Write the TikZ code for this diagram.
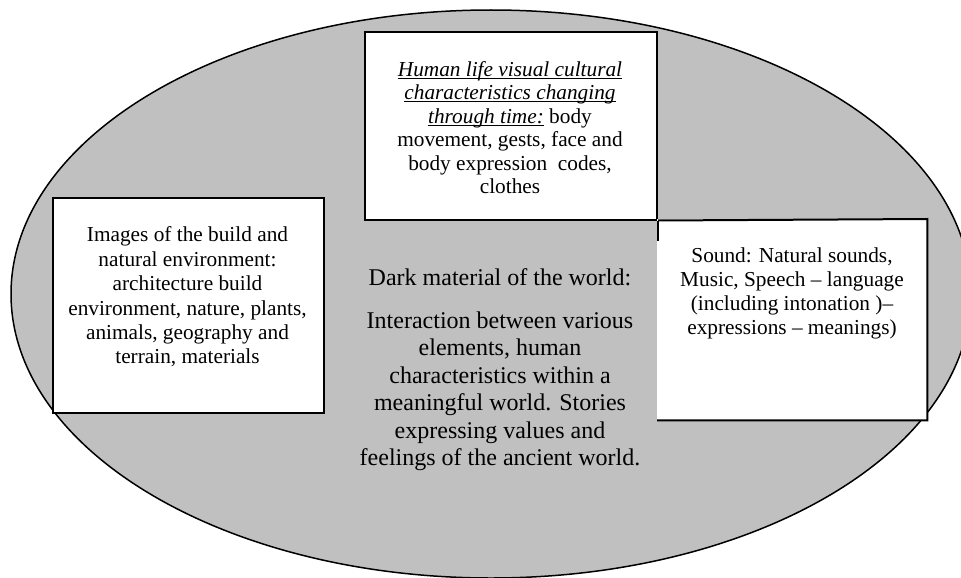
\documentclass[tikz,border=0pt]{standalone}
\usepackage{fontspec}
\setmainfont{Liberation Serif}
\newcommand\myul[1]{\setbox0\hbox{#1}\rlap{\rule[-2.4pt]{\wd0}{1pt}}\box0\relax}
\definecolor{ovalgray}{HTML}{C0C0C0}
\tikzset{
  oval/.style={draw=black, line width=1.5pt, fill=ovalgray},
  boxframe/.style={draw=black, line width=2pt, fill=white, rectangle, inner sep=0pt, anchor=north west},
  boxtext/.style={align=center, inner sep=0pt, anchor=north, font=\fontsize{21.3}{23.6}\selectfont},
  centertext/.style={align=center, inner sep=0pt, anchor=north, font=\fontsize{24}{27.4}\selectfont},
  edge/.style={draw=black, line width=2pt}
}
\begin{document}
\begin{tikzpicture}[x=1pt,y=-1pt]
\useasboundingbox (0,0) rectangle (961,578);
\begin{scope}
\clip (0,0) rectangle (961,578);
\path[oval] (491,294) ellipse [x radius=480pt, y radius=284pt];
\end{scope}
% top box
\node[boxframe, minimum width=292pt, minimum height=187.5pt] (tbox) at (364,31) {};
% right box (no left border)
\node[rectangle, fill=white, inner sep=0pt, anchor=north west, minimum width=270pt, minimum height=201pt] (rbox) at (657,219) {};
\draw[edge] (tbox.south east) -- ++(0,20) coordinate (tstub);
\draw[edge] (tbox.south east) -- (rbox.north east) -- (rbox.south east) -- (rbox.south west);
% left box
\node[boxframe, minimum width=271pt, minimum height=215pt] (lbox) at (52,197) {};
% texts
\node[boxtext, font=\fontsize{21.3}{23.5}\selectfont] (ttext) at (510,61)
  {\myul{\textit{Human life visual cultural}}\\
   \myul{\textit{characteristics changing}}\\
   \myul{\textit{through time:}} body\\
   movement, gests, face and\\
   body expression\ \ codes,\\
   clothes};
\node[boxtext, font=\fontsize{21.3}{24.4}\selectfont] (ltext) at (187.5,226.7)
  {Images of the build and\\
   natural environment:\\
   architecture build\\
   environment, nature, plants,\\
   animals, geography and\\
   terrain, materials};
\node[boxtext, font=\fontsize{21.3}{23.8}\selectfont] (rtext) at (792,247.7)
  {Sound: Natural sounds,\\
   Music, Speech -- language\\
   (including intonation )--\\
   expressions -- meanings)};
\node[centertext] (dtitle) at (500,268.6) {Dark material of the world:};
\node[centertext] (dbody) at (500,311.6)
  {Interaction between various\\
   elements, human\\
   characteristics within a\\
   meaningful world. Stories\\
   expressing values and\\
   feelings of the ancient world.};
\end{tikzpicture}
\end{document}
